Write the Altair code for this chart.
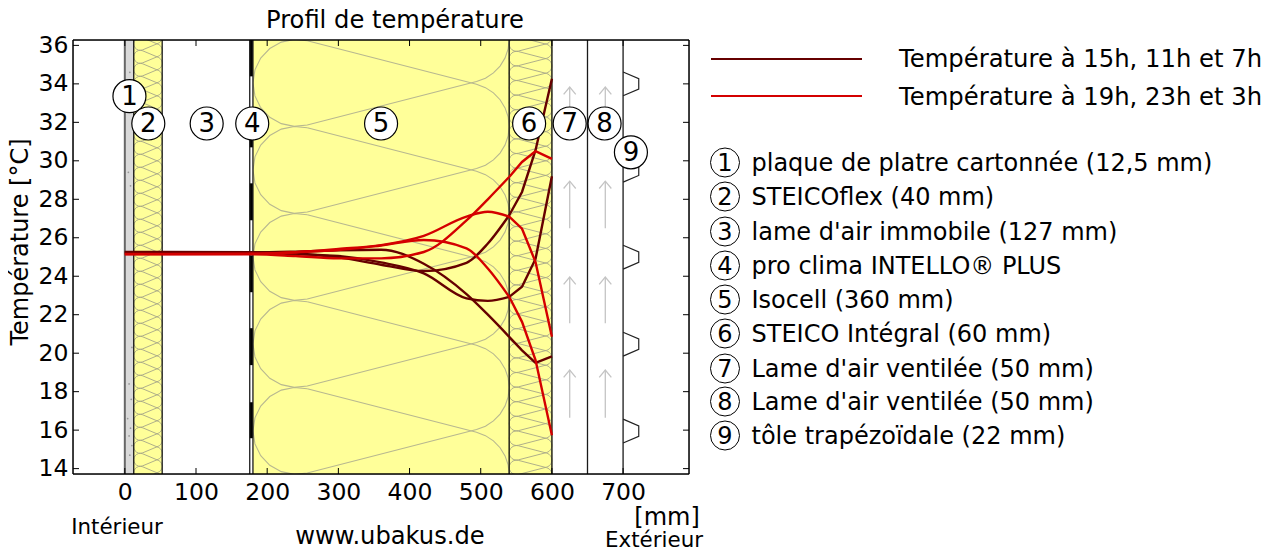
import math
import altair as alt
import pandas as pd

FONT = "DejaVu Sans"
W, H = 616, 434
X_DOMAIN = [-72.8, 792.6]
Y_DOMAIN = [13.72, 36.28]
KX = W / (X_DOMAIN[1] - X_DOMAIN[0])
KY = H / (Y_DOMAIN[1] - Y_DOMAIN[0])

x_ticks = [0, 100, 200, 300, 400, 500, 600, 700]
y_ticks = [14, 16, 18, 20, 22, 24, 26, 28, 30, 32, 34, 36]

# temperature curves (x in mm, temperature in deg C)
xs = [0, 12.5, 52.5, 180, 240, 300, 360, 420, 480, 510, 540, 558, 577, 600]
t_15h = [25.26, 25.26, 25.26, 25.25, 25.18, 24.98, 24.6, 24.27, 24.7, 25.7, 27.17, 28.38, 30.55, 34.27]
t_11h = [25.25, 25.25, 25.25, 25.24, 25.15, 25.05, 24.72, 24.15, 22.85, 22.72, 22.93, 23.45, 24.9, 29.2]
t_7h = [25.24, 25.24, 25.24, 25.24, 25.28, 25.35, 25.38, 24.65, 23.07, 22.0, 20.85, 20.15, 19.5, 19.84]
t_19h = [25.14, 25.14, 25.14, 25.14, 25.05, 24.93, 24.93, 25.26, 26.9, 28.0, 29.16, 29.94, 30.5, 30.1]
t_23h = [25.15, 25.15, 25.15, 25.16, 25.25, 25.42, 25.62, 26.1, 27.1, 27.35, 27.1, 26.47, 24.74, 20.85]
t_3h = [25.16, 25.16, 25.16, 25.17, 25.25, 25.36, 25.6, 25.88, 25.45, 24.4, 22.93, 21.63, 19.64, 15.74]

dark_series = {"15h": t_15h, "11h": t_11h, "7h": t_7h}
red_series = {"19h": t_19h, "23h": t_23h, "3h": t_3h}

# wall layers (mm)
yellow_x1 = [12.5, 180, 540]
yellow_x2 = [52.5, 540, 600]
plaster_x = [[0, 12.5]]
border_x = [12.5, 52.5, 175.5, 180, 650, 700]

# vapour membrane dash boundaries (deg C)
dash_top = [36.28, 32.62, 28.83, 25.09, 21.30, 17.45]
dash_bot = [34.39, 30.70, 26.91, 23.17, 19.38, 15.58]

# plaster specks
speck_x = [7, 9, 5, 8, 10, 6, 9, 4, 8, 6, 10, 7]
speck_t = [34.6, 33.2, 29.4, 28.7, 20.3, 18.4, 17.6, 16.6, 16.1, 15.7, 15.2, 14.7]

# ventilation arrows
arrow_x = [625, 675]
arrow_tops = [33.83, 28.94, 23.96, 19.12]
arrow_bots = [31.43, 26.49, 21.56, 16.64]

# trapezoid sheet
bump_centres = [34.0, 29.51, 24.99, 20.47, 15.95]

# numbered markers inside the plot
marker_n = ["1", "2", "3", "4", "5", "6", "7", "8", "9"]
marker_x = [6.5, 33, 115, 179, 360, 568, 625, 674, 711]
marker_t = [33.36, 31.94, 31.94, 31.94, 31.94, 31.94, 31.94, 31.94, 30.44]

# legend
legend_labels = [
    "plaque de platre cartonnée (12,5 mm)",
    "STEICOflex (40 mm)",
    "lame d'air immobile (127 mm)",
    "pro clima INTELLO® PLUS",
    "Isocell (360 mm)",
    "STEICO Intégral (60 mm)",
    "Lame d'air ventilée (50 mm)",
    "Lame d'air ventilée (50 mm)",
    "tôle trapézoïdale (22 mm)",
]
legend_py = [122.5, 156.5, 191.5, 225.5, 259.5, 293.5, 328.5, 361.5, 395.5]
curve_labels = ["Température à 15h, 11h et 7h", "Température à 19h, 23h et 3h"]
curve_py = [19, 56]
curve_text_py = [20, 57.5]
curve_colors = ["#660000", "#d40000"]


def lobes(left_mm, right_mm, period_px, cy_deg):
    """Rounded insulation hatch, as points in data units."""
    r = period_px / 2
    width = (right_mm - left_mm) * KX
    dist = width - 2 * r
    a = math.atan((period_px / 2) / dist)
    out = []
    n = int(H / period_px) + 4
    seg = 0
    cy0 = (Y_DOMAIN[1] - cy_deg) * KY
    start = -int(cy0 / period_px) - 2
    for k in range(start, start + n):
        cy = cy0 + k * period_px
        cxl, cxr = r, width - r
        path = []
        for i in range(13):
            t = -(math.pi / 2 + a) + i / 12 * (math.pi + 2 * a)
            path.append((cxl - r * math.cos(t), cy + r * math.sin(t)))
        cyr = cy - period_px / 2
        path.append((cxr + r * math.sin(a), cyr + r * math.cos(a)))
        for i in range(13):
            t = (math.pi / 2 - a) - i / 12 * (math.pi - 2 * a)
            path.append((cxr + r * math.cos(t), cyr + r * math.sin(t)))
        cyu = cy - period_px
        path.append((cxl + r * math.sin(a), cyu - r * math.cos(a) + 0))
        for j, (px, py) in enumerate(path):
            out.append({"x": left_mm + px / KX, "t": Y_DOMAIN[1] - py / KY, "s": seg, "i": j})
        seg += 1
    return pd.DataFrame(out)


X = alt.X("x:Q", scale=alt.Scale(domain=X_DOMAIN, nice=False, zero=False),
          axis=alt.Axis(values=x_ticks, tickSize=0, domain=False, grid=False, labelFontSize=23.5,
                        labelFont=FONT, labelColor="#000", labelPadding=6, title=None, labelFlush=False))
Y = alt.Y("t:Q", scale=alt.Scale(domain=Y_DOMAIN, nice=False, zero=False),
          axis=alt.Axis(values=y_ticks, tickSize=0, domain=False, grid=False, labelFontSize=23.5,
                        labelFont=FONT, labelColor="#000", labelPadding=5, title=None))
XP = alt.X("px:Q", scale=None)
YP = alt.Y("py:Q", scale=None)

layers = []

# fills
yellow = pd.DataFrame({"x": yellow_x1, "x2": yellow_x2})
layers.append(alt.Chart(yellow).mark_rect(color="#ffff99", clip=True).encode(
    x=X, x2="x2:Q", y=alt.value(0), y2=alt.value(H)))
layers.append(alt.Chart(pd.DataFrame({"x": [plaster_x[0][0]], "x2": [plaster_x[0][1]]})).mark_rect(color="#d9d9d9").encode(
    x=X, x2="x2:Q", y=alt.value(0), y2=alt.value(H)))
layers.append(alt.Chart(pd.DataFrame({"x": speck_x, "t": speck_t})).mark_circle(color="#999999", size=3, opacity=1).encode(x=X, y=Y))

# hatch
for df, c, sw in [
    (lobes(180, 540, 87, 36 - (256.5 - 45) / KY), "#b8b890", 1.1),
    (lobes(540, 600, 14.6, 30.0), "#a6a688", 0.9),
    (lobes(12.5, 52.5, 13, 30.0), "#a6a688", 0.9),
]:
    layers.append(alt.Chart(df).mark_line(color=c, strokeWidth=sw, clip=True).encode(
        x=X, y=Y, detail="s:N", order="i:Q"))

# membrane
layers.append(alt.Chart(pd.DataFrame({"x": [175.5], "x2": [180]})).mark_rect(color="#ffffff").encode(
    x=X, x2="x2:Q", y=alt.value(0), y2=alt.value(H)))
layers.append(alt.Chart(pd.DataFrame({"x": [175.5] * 6, "x2": [180] * 6, "t": dash_top, "t2": dash_bot})).mark_rect(color="#000000").encode(
    x=X, x2="x2:Q", y=Y, y2="t2:Q"))

# layer borders
layers.append(alt.Chart(pd.DataFrame({"x": border_x})).mark_rule(color="#1a1a1a", strokeWidth=1.3).encode(
    x=X, y=alt.value(0), y2=alt.value(H)))
layers.append(alt.Chart(pd.DataFrame({"x": [0]})).mark_rule(color="#666666", strokeWidth=2).encode(
    x=X, y=alt.value(0), y2=alt.value(H)))
layers.append(alt.Chart(pd.DataFrame({"x": [540, 600]})).mark_rule(color="#333322", strokeWidth=1.6).encode(
    x=X, y=alt.value(0), y2=alt.value(H)))

# arrows
arrow_rows = []
s = 0
wing_x, wing_t = 8.5, 0.38
for ax in arrow_x:
    for top, bot in zip(arrow_tops, arrow_bots):
        pts = [(ax, bot), (ax, top)]
        arrow_rows += [{"x": p[0], "t": p[1], "s": s, "i": i} for i, p in enumerate(pts)]
        s += 1
        pts = [(ax - wing_x, top - wing_t), (ax, top), (ax + wing_x, top - wing_t)]
        arrow_rows += [{"x": p[0], "t": p[1], "s": s, "i": i} for i, p in enumerate(pts)]
        s += 1
layers.append(alt.Chart(pd.DataFrame(arrow_rows)).mark_line(color="#c4c4c4", strokeWidth=1.3).encode(
    x=X, y=Y, detail="s:N", order="i:Q"))

# trapezoid sheet
bump_rows = []
for s, c in enumerate(bump_centres):
    pts = [(700, c + 0.62), (722, c + 0.27), (722, c - 0.27), (700, c - 0.62)]
    bump_rows += [{"x": p[0], "t": p[1], "s": s, "i": i} for i, p in enumerate(pts)]
layers.append(alt.Chart(pd.DataFrame(bump_rows)).mark_line(color="#222222", strokeWidth=1.2).encode(
    x=X, y=Y, detail="s:N", order="i:Q"))

# temperature curves: smooth inside the wall, straight steps across the outer board
for series, col in [(dark_series, curve_colors[0]), (red_series, curve_colors[1])]:
    rows = pd.DataFrame([{"x": x, "t": v, "s": name} for name, vals in series.items() for x, v in zip(xs, vals)])
    layers.append(alt.Chart(rows[rows.x <= 540]).mark_line(color=col, strokeWidth=2.4, interpolate="monotone").encode(
        x=X, y=Y, detail="s:N"))
    layers.append(alt.Chart(rows[rows.x >= 540]).mark_line(color=col, strokeWidth=2.4).encode(
        x=X, y=Y, detail="s:N"))

# inward ticks
dfx = pd.DataFrame({"x": x_ticks})
dfy = pd.DataFrame({"t": y_ticks})
tick = dict(color="#000000", strokeWidth=1)
layers += [
    alt.Chart(dfx).mark_rule(**tick).encode(x=X, y=alt.value(0), y2=alt.value(6)),
    alt.Chart(dfx).mark_rule(**tick).encode(x=X, y=alt.value(H - 6), y2=alt.value(H)),
    alt.Chart(dfy).mark_rule(**tick).encode(y=Y, x=alt.value(0), x2=alt.value(6)),
    alt.Chart(dfy).mark_rule(**tick).encode(y=Y, x=alt.value(W - 6), x2=alt.value(W)),
]

# plot frame
frame = dict(color="#000000", strokeWidth=1.5)
layers += [
    alt.Chart(pd.DataFrame({"a": [0]})).mark_rule(**frame).encode(x=alt.value(0), y=alt.value(0), y2=alt.value(H)),
    alt.Chart(pd.DataFrame({"a": [0]})).mark_rule(**frame).encode(x=alt.value(W), y=alt.value(0), y2=alt.value(H)),
    alt.Chart(pd.DataFrame({"a": [0]})).mark_rule(**frame).encode(y=alt.value(0), x=alt.value(0), x2=alt.value(W)),
    alt.Chart(pd.DataFrame({"a": [0]})).mark_rule(**frame).encode(y=alt.value(H), x=alt.value(0), x2=alt.value(W)),
]

# markers
mk = pd.DataFrame({"x": marker_x, "t": marker_t, "n": marker_n})
layers.append(alt.Chart(mk).mark_point(shape="circle", size=1089, filled=True, fill="#ffffff", stroke="#000000",
                                       strokeWidth=1.2, opacity=1).encode(x=X, y=Y))
layers.append(alt.Chart(mk).mark_text(font=FONT, fontSize=26, color="#000", baseline="middle", align="center", dy=1).encode(
    x=X, y=Y, text="n:N"))

# legend lines and text
leg_lines = pd.DataFrame({"px": [638, 638], "px2": [789, 789], "py": curve_py, "c": curve_colors})
layers.append(alt.Chart(leg_lines).mark_rule(strokeWidth=2.2).encode(
    x=XP, x2="px2:Q", y=YP, color=alt.Color("c:N", scale=None)))
layers.append(alt.Chart(pd.DataFrame({"px": [826, 826], "py": curve_text_py, "s": curve_labels})).mark_text(
    font=FONT, fontSize=24.3, color="#000", align="left", baseline="middle").encode(x=XP, y=YP, text="s:N"))
lg = pd.DataFrame({"px": [652] * 9, "tx": [678.5] * 9, "py": legend_py, "n": marker_n, "s": legend_labels})
layers.append(alt.Chart(lg).mark_point(shape="circle", size=841, filled=True, fill="#ffffff", stroke="#000000",
                                       strokeWidth=1, opacity=1).encode(x=XP, y=YP))
layers.append(alt.Chart(lg).mark_text(font=FONT, fontSize=24, color="#000", baseline="middle", align="center", dy=1).encode(
    x=XP, y=YP, text="n:N"))
layers.append(alt.Chart(lg).mark_text(font=FONT, fontSize=24, color="#000", baseline="middle", align="left", dy=1).encode(
    x=alt.X("tx:Q", scale=None), y=YP, text="s:N"))

# free titles
free = pd.DataFrame({
    "px": [322, -52, 44, 594, 317, 581],
    "py": [-19, 202, 488, 478, 497, 501],
    "s": ["Profil de température", "Température [°C]", "Intérieur", "[mm]", "www.ubakus.de", "Extérieur"],
    "fs": [24.2, 24, 21.4, 24, 24.2, 21.4],
    "ang": [0, 270, 0, 0, 0, 0],
})
for _, r in free.iterrows():
    layers.append(alt.Chart(pd.DataFrame([r.to_dict()])).mark_text(
        font=FONT, fontSize=float(r["fs"]), color="#000", align="center", baseline="middle", angle=int(r["ang"])
    ).encode(x=XP, y=YP, text="s:N"))

chart = alt.layer(*layers).properties(
    width=W, height=H,
    autosize=alt.AutoSizeParams(type="none"),
    padding={"left": 65, "top": 32, "right": 577, "bottom": 78},
).configure_view(stroke="#000000", strokeWidth=1.5).configure(background="#ffffff")

chart.save("out.html", embed_options={"renderer": "svg", "actions": False})
